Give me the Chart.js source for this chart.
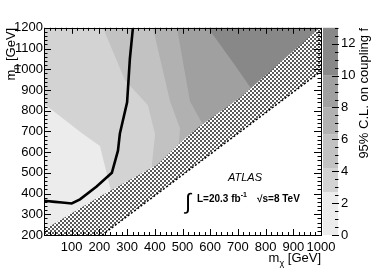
<!DOCTYPE html>
<html><head><meta charset="utf-8">
<script src="https://cdn.jsdelivr.net/npm/chart.js@4.4.1/dist/chart.umd.min.js"></script>
<style>html,body{margin:0;padding:0;background:#fff;overflow:hidden}#wrap{width:374px;height:268px}</style>
</head><body><div id="wrap"><canvas id="c" width="374" height="268"></canvas></div>
<script>
// ---------------- data (m_chi, m_eta in GeV) ----------------
const xTickValues = [0, 100, 200, 300, 400, 500, 600, 700, 800, 900, 1000];
const yTickValues = [200, 300, 400, 500, 600, 700, 800, 900, 1000, 1100, 1200];
const colorbarTickValues = [0, 2, 4, 6, 8, 10, 12];
// colour-bar band edges (95% CL limit on coupling f)
const contourLevels = [0, 2.7, 4.2, 6.3, 8, 10, 13];

// observed limit contour (thick black line)
const limitChi = [0, 40, 65, 100, 130, 190, 245, 267, 274, 300, 310, 321];
const limitEta = [365, 360, 357, 352, 372, 434, 500, 607, 690, 840, 1050, 1200];

// filled contour regions (value above a level), boundaries
const level1Chi = [0, 1000, 1000, 0];
const level1Eta = [200, 200, 1200, 1200];
const level0Chi = [0, 137, 202, 245, 245, 0];
const level0Eta = [833, 691, 630, 396, 200, 200];
const level2Chi = [213, 292, 375, 401, 390, 390, 1000, 1000];
const level2Eta = [1200, 948, 826, 686, 546, 200, 200, 1200];
const level3Chi = [393, 455, 491, 484, 484, 1000, 1000];
const level3Eta = [1200, 845, 714, 597, 200, 200, 1200];
const level4Chi = [480, 527, 581, 581, 1000, 1000];
const level4Eta = [1200, 845, 714, 200, 200, 1200];
const level5Chi = [592, 690, 787, 787, 1000, 1000];
const level5Eta = [1200, 1018, 831, 200, 200, 1200];

// hatched band (no sensitivity) and forbidden region below m_eta = m_chi
const hatchChi = [0, 200, 410, 500, 560, 710, 1000, 1000, 210, 0];
const hatchEta = [225, 385, 540, 655, 722, 865, 1205, 990, 200, 200];
const forbidChi = [210, 1000, 1000];
const forbidEta = [200, 990, 200];
const kinLineChi = [210, 1000];
const kinLineEta = [200, 990];

// ---------------- styling ----------------
const levelColors = ['#ececec', '#d3d3d3', '#c2c2c2', '#b1b1b1', '#a0a0a0', '#888888'];
const FONT = "'Liberation Sans', Arial, Helvetica, sans-serif";

function pts(xs, ys) { return xs.map((x, i) => ({x: x, y: ys[i]})); }

function hatchPattern() {
  const c = document.createElement('canvas');
  c.width = 4; c.height = 4;
  const g = c.getContext('2d');
  g.fillStyle = '#ffffff'; g.fillRect(0, 0, 4, 4);
  g.fillStyle = '#5a5a5a'; g.fillRect(0, 0, 2, 2); g.fillRect(2, 2, 2, 2);
  return g.createPattern(c, 'repeat');
}

function area(xs, ys, color) {
  return {data: pts(xs, ys), showLine: true, fill: 'shape', backgroundColor: color,
          borderColor: 'rgba(0,0,0,0)', borderWidth: 0, pointRadius: 0, tension: 0};
}

const datasets = [
  area(level1Chi, level1Eta, levelColors[1]),
  area(level0Chi, level0Eta, levelColors[0]),
  area(level2Chi, level2Eta, levelColors[2]),
  area(level3Chi, level3Eta, levelColors[3]),
  area(level4Chi, level4Eta, levelColors[4]),
  area(level5Chi, level5Eta, levelColors[5]),
  area(hatchChi, hatchEta, hatchPattern()),
  area(forbidChi, forbidEta, '#ffffff'),
  {data: pts(kinLineChi, kinLineEta), showLine: true, fill: false, borderColor: '#000',
   borderWidth: 1.5, borderDash: [2, 2], pointRadius: 0},
  {data: pts(limitChi, limitEta), showLine: true, fill: false, borderColor: '#000',
   borderWidth: 2.6, pointRadius: 0, tension: 0}
];
datasets.forEach((d, i) => { d.order = datasets.length - i; });

function setTicks(values) {
  return function (scale) { scale.ticks = values.map(v => ({value: v})); };
}

const framePlugin = {
  id: 'frame',
  afterDatasetsDraw(chart) {
    const ctx = chart.ctx, a = chart.chartArea;
    const xs = chart.scales.x, ys = chart.scales.y;
    ctx.save();
    ctx.strokeStyle = '#000'; ctx.lineWidth = 1;
    ctx.beginPath();
    for (let v = 0; v <= 1000; v += 20) {
      const p = Math.round(xs.getPixelForValue(v)) + 0.5;
      const len = v % 100 === 0 ? 6 : 3;
      ctx.moveTo(p, a.bottom); ctx.lineTo(p, a.bottom - len);
      ctx.moveTo(p, a.top); ctx.lineTo(p, a.top + len);
    }
    for (let v = 200; v <= 1200; v += 20) {
      const p = Math.round(ys.getPixelForValue(v)) + 0.5;
      const len = v % 100 === 0 ? 7 : 3.5;
      ctx.moveTo(a.left, p); ctx.lineTo(a.left + len, p);
      ctx.moveTo(a.right, p); ctx.lineTo(a.right - len, p);
    }
    ctx.stroke();
    ctx.strokeRect(Math.round(a.left) + 0.5, Math.round(a.top) + 0.5,
                   Math.round(a.right - a.left), Math.round(a.bottom - a.top));
    ctx.restore();
  },
  afterDraw(chart) {
    const ctx = chart.ctx, a = chart.chartArea;
    const cb = chart.scales.cb;
    ctx.save();
    const x0 = a.right + 2, x1 = a.right + 17;
    for (let i = 0; i < contourLevels.length - 1; i++) {
      const yb = cb.getPixelForValue(contourLevels[i]);
      const yt = cb.getPixelForValue(contourLevels[i + 1]);
      ctx.fillStyle = levelColors[i];
      ctx.fillRect(x0, yt, x1 - x0, yb - yt);
    }
    ctx.strokeStyle = '#000'; ctx.lineWidth = 1;
    ctx.beginPath();
    colorbarTickValues.forEach(v => {
      const p = Math.round(cb.getPixelForValue(v)) + 0.5;
      ctx.moveTo(x1 - 6, p); ctx.lineTo(x1 + 1, p);
    });
    for (let v = 0; v <= 13; v += 0.5) {
      if (v % 2 === 0) continue;
      const p = Math.round(cb.getPixelForValue(v)) + 0.5;
      ctx.moveTo(x1 - 3, p); ctx.lineTo(x1 + 0.5, p);
    }
    ctx.stroke();
    ctx.fillStyle = '#000';
    function subText(parts, size) {
      let w = 0;
      parts.forEach(p => { ctx.font = (p.s ? Math.round(size * 0.7) : size) + 'px ' + FONT; w += ctx.measureText(p.t).width; });
      return w;
    }
    function drawParts(parts, size, x, y) {
      parts.forEach(p => {
        ctx.font = (p.s ? Math.round(size * 0.7) : size) + 'px ' + FONT;
        ctx.fillText(p.t, x, y + (p.s ? size * 0.3 : 0));
        x += ctx.measureText(p.t).width;
      });
    }
    ctx.textBaseline = 'alphabetic'; ctx.textAlign = 'left';
    const yTitle = [{t: 'm'}, {t: '\u03B7', s: true}, {t: ' [GeV]'}];
    ctx.save();
    ctx.translate(15, a.top);
    ctx.rotate(-Math.PI / 2);
    drawParts(yTitle, 13, -subText(yTitle, 13), 0);
    ctx.restore();
    const xTitle = [{t: 'm'}, {t: '\u03C7', s: true}, {t: ' [GeV]'}];
    drawParts(xTitle, 13, a.right - subText(xTitle, 13), 262);
    ctx.save();
    ctx.translate(368, a.top);
    ctx.rotate(-Math.PI / 2);
    ctx.font = '13px ' + FONT;
    ctx.textAlign = 'right';
    ctx.fillText('95% C.L. on coupling f', 0, 0);
    ctx.restore();
    ctx.font = 'italic 11px ' + FONT;
    ctx.fillText('ATLAS', 228, 181);
    ctx.font = '22px ' + FONT;
    ctx.fillText('\u222B', 185, 209);
    ctx.font = 'bold 10px ' + FONT;
    ctx.fillText('L=20.3 fb', 197, 202);
    let w = ctx.measureText('L=20.3 fb').width;
    ctx.font = 'bold 7px ' + FONT;
    ctx.fillText('-1', 197 + w, 197);
    ctx.font = 'bold 10px ' + FONT;
    ctx.fillText('\u221As=8 TeV', 257, 202);
    ctx.restore();
  }
};

new Chart(document.getElementById('c'), {
  type: 'scatter',
  data: {datasets: datasets},
  options: {
    responsive: false, animation: false, devicePixelRatio: 1,
    layout: {padding: {top: 21, left: 0, right: 0, bottom: 0}},
    plugins: {legend: {display: false}, tooltip: {enabled: false}},
    scales: {
      x: {type: 'linear', min: 0, max: 1000, afterBuildTicks: setTicks(xTickValues),
          afterFit(s) { s.height = 33; },
          grid: {display: false, drawTicks: false},
          border: {display: false},
          ticks: {padding: 5, color: '#000', font: {family: FONT, size: 13}, maxRotation: 0, autoSkip: false,
                  callback: v => (v === 0 ? '' : String(v))}},
      y: {type: 'linear', min: 200, max: 1200, afterBuildTicks: setTicks(yTickValues),
          afterFit(s) { s.width = 44; },
          grid: {display: false, drawTicks: false},
          border: {display: false},
          ticks: {padding: 1, color: '#000', font: {family: FONT, size: 13}, autoSkip: false,
                  callback: v => String(v)}},
      cb: {type: 'linear', position: 'right', min: 0, max: 13, afterBuildTicks: setTicks(colorbarTickValues),
           afterFit(s) { s.width = 53; },
           grid: {display: false, drawTicks: false},
           border: {display: false},
           ticks: {padding: 20, color: '#000', font: {family: FONT, size: 13}, autoSkip: false,
                   callback: v => String(v)}}
    }
  },
  plugins: [framePlugin]
});
</script>
</body></html>
